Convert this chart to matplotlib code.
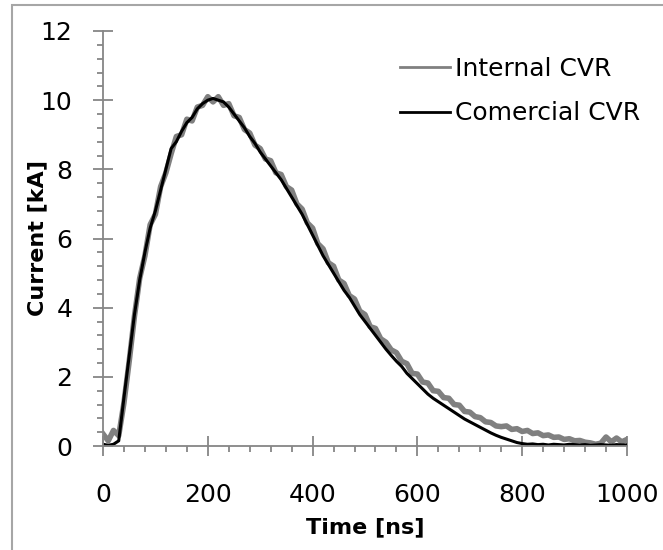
import matplotlib
matplotlib.use("Agg")
import matplotlib.pyplot as plt
from matplotlib.patches import Rectangle
from matplotlib.ticker import MultipleLocator

plt.rcParams['font.family'] = ['DejaVu Sans']

# Time base (ns), sampled every 10 ns
time_ns = list(range(0, 1001, 10))

# Internal CVR current (kA)
internal_cvr = [
    0.35, 0.15, 0.45, 0.30, 1.25, 2.45, 3.75, 4.85, 5.50, 6.40,
    6.70, 7.50, 7.90, 8.45, 8.95, 9.00, 9.45, 9.40, 9.80, 9.85,
    10.10, 9.95, 10.10, 9.85, 9.90, 9.55, 9.50, 9.15, 9.05, 8.70,
    8.60, 8.30, 8.25, 7.90, 7.85, 7.50, 7.40, 7.00, 6.85, 6.45,
    6.30, 5.85, 5.70, 5.30, 5.20, 4.80, 4.70, 4.35, 4.25, 3.90,
    3.80, 3.45, 3.40, 3.10, 3.00, 2.78, 2.70, 2.45, 2.38, 2.10,
    2.08, 1.85, 1.82, 1.60, 1.58, 1.40, 1.38, 1.20, 1.18, 1.00,
    0.98, 0.85, 0.82, 0.70, 0.68, 0.58, 0.56, 0.58, 0.48, 0.50,
    0.42, 0.45, 0.36, 0.38, 0.30, 0.32, 0.25, 0.26, 0.19, 0.21,
    0.15, 0.16, 0.11, 0.09, 0.05, 0.08, 0.26, 0.12, 0.23, 0.12,
    0.19,
]

# Commercial CVR current (kA)
comercial_cvr = [
    0.05, 0.02, 0.05, 0.15, 1.40, 2.60, 3.80, 4.80, 5.60, 6.30,
    6.80, 7.40, 8.00, 8.60, 8.80, 9.10, 9.35, 9.50, 9.75, 9.90,
    10.00, 10.05, 10.00, 9.95, 9.80, 9.60, 9.40, 9.20, 8.95, 8.75,
    8.50, 8.30, 8.10, 7.90, 7.70, 7.45, 7.20, 6.95, 6.70, 6.40,
    6.10, 5.80, 5.50, 5.25, 5.00, 4.75, 4.50, 4.30, 4.05, 3.80,
    3.60, 3.40, 3.20, 3.00, 2.80, 2.62, 2.45, 2.30, 2.10, 1.95,
    1.80, 1.65, 1.50, 1.38, 1.28, 1.18, 1.08, 0.98, 0.88, 0.78,
    0.70, 0.62, 0.54, 0.46, 0.38, 0.31, 0.25, 0.20, 0.15, 0.10,
    0.07, 0.05, 0.06, 0.04, 0.05, 0.03, 0.05, 0.04, 0.03, 0.05,
    0.04, 0.03, 0.04, 0.02, 0.03, 0.04, 0.03, 0.02, 0.04, 0.03,
    0.03,
]

W, H = 663, 550
fig = plt.figure(figsize=(W / 100, H / 100), dpi=100)

# Chart-area border
fig.patches.append(Rectangle((12 / W, -0.05), 1.2, (H - 4.5) / H + 0.05,
                             transform=fig.transFigure, fill=False,
                             edgecolor='#a6a6a6', linewidth=1.5, zorder=0))

ax = fig.add_axes([103 / W, (H - 446) / H, (627 - 103) / W, (446 - 31) / H])

ax.plot(time_ns, internal_cvr, color='#808080', linewidth=4.0,
        label='Internal CVR')
ax.plot(time_ns, comercial_cvr, color='black', linewidth=2.2,
        label='Comercial CVR')

ax.set_xlim(0, 1000)
ax.set_ylim(0, 12)
ax.xaxis.set_major_locator(MultipleLocator(200))
ax.xaxis.set_minor_locator(MultipleLocator(40))
ax.yaxis.set_major_locator(MultipleLocator(2))
ax.yaxis.set_minor_locator(MultipleLocator(0.4))

axis_gray = '#868686'
for side in ('top', 'right'):
    ax.spines[side].set_visible(False)
for side in ('left', 'bottom'):
    ax.spines[side].set_color(axis_gray)
    ax.spines[side].set_linewidth(1.3)

ax.tick_params(which='major', direction='inout', length=14, width=1.3,
               color=axis_gray, labelsize=18)
ax.tick_params(which='minor', direction='out', length=4.5, width=1.3,
               color=axis_gray)
ax.tick_params(axis='y', which='major', pad=15)
ax.tick_params(axis='x', which='major', pad=20)

ax.set_xlabel('Time [ns]', fontsize=16, fontweight='bold', labelpad=7)
ax.set_ylabel('Current [kA]', fontsize=16, fontweight='bold')
ax.yaxis.set_label_coords(-0.107, 0.5)

leg = ax.legend(loc='upper left', bbox_to_anchor=(400 / W, 1 - 57 / H),
                bbox_transform=fig.transFigure, frameon=False,
                fontsize=18, handlelength=2.0, handletextpad=0.2,
                labelspacing=0.82, borderpad=0, borderaxespad=0)
for line in leg.get_lines():
    line.set_linewidth(2.0)

fig.savefig('out.png', dpi=100)
